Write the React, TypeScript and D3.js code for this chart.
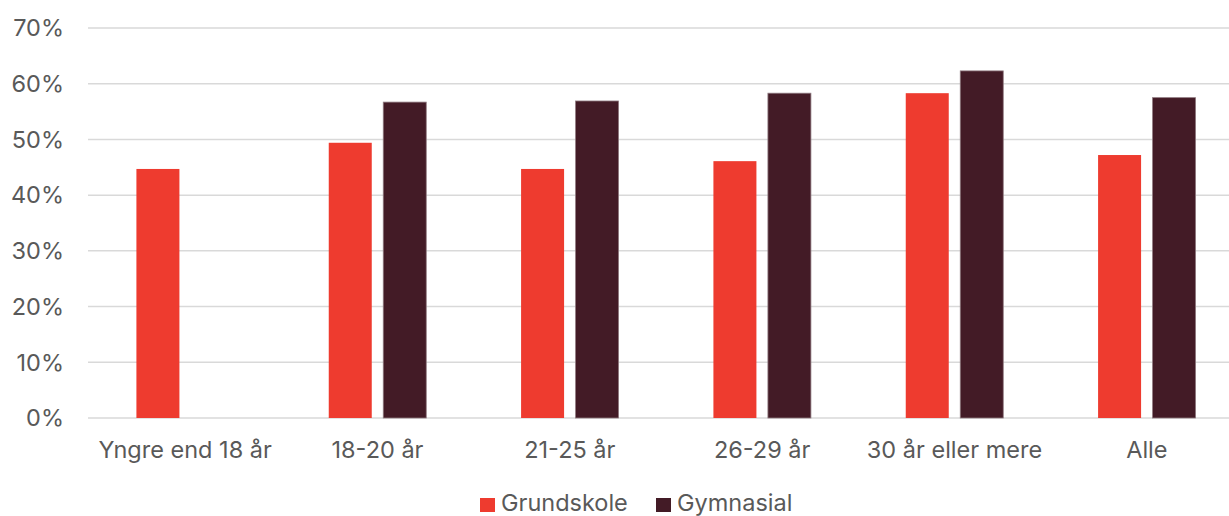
import React from "react";
import * as d3 from "d3";

const categories = ["Yngre end 18 år", "18-20 år", "21-25 år", "26-29 år", "30 år eller mere", "Alle"];
const seriesNames = ["Grundskole", "Gymnasial"];
const grundskole: (number | null)[] = [44.7, 49.4, 44.7, 46.1, 58.3, 47.2];
const gymnasial: (number | null)[] = [null, 56.7, 56.9, 58.3, 62.3, 57.5];
const yTicks = [0, 10, 20, 30, 40, 50, 60, 70];
const colors = ["#EE3B2F", "#431B26"];

const W = 1229;
const H = 516;
const FONT = "Inter, 'Liberation Sans', sans-serif";
const FS = 23.5;

export default function App() {
  const x0 = d3.scaleBand<string>().domain(categories).range([89, 1243]).paddingInner(0).paddingOuter(0);
  const x1 = d3.scaleBand<string>().domain(seriesNames).range([0, x0.bandwidth()]).paddingInner(0.211).paddingOuter(0.87);
  const y = d3.scaleLinear().domain([0, 70]).range([418, 28]);
  const series = [grundskole, gymnasial];

  return (
    <svg width={W} height={H} style={{ position: "absolute", left: 0, top: 0, background: "#fff" }}>
      {yTicks.map((t) => (
        <g key={t}>
          <line x1={88} x2={1229} y1={y(t)} y2={y(t)} stroke="#d9d9d9" strokeWidth={1.5} />
          <text x={64} y={y(t)} dy="0.35em" textAnchor="end" fontFamily={FONT} fontSize={FS} fill="#595959">
            {t}%
          </text>
        </g>
      ))}
      {categories.map((c, i) => (
        <g key={c} transform={`translate(${x0(c)},0)`}>
          {series.map((s, j) => {
            const v = s[i];
            if (v == null) return null;
            return (
              <rect
                key={j}
                x={x1(seriesNames[j])}
                y={y(v)}
                width={x1.bandwidth()}
                height={y(0) - y(v)}
                fill={colors[j]}
                stroke={j === 1 ? "#8f7a80" : "none"}
                strokeWidth={j === 1 ? 0.8 : 0}
              />
            );
          })}
          <text
            x={x0.bandwidth() / 2}
            y={450}
            dy="0.35em"
            textAnchor="middle"
            fontFamily={FONT}
            fontSize={FS}
            fill="#595959"
          >
            {c}
          </text>
        </g>
      ))}
      <g>
        <rect x={480} y={498} width={15} height={14} fill={colors[0]} />
        <text x={501} y={503} dy="0.35em" fontFamily={FONT} fontSize={FS} fill="#595959">
          {seriesNames[0]}
        </text>
        <rect x={656} y={498} width={15} height={14} fill={colors[1]} />
        <text x={677} y={503} dy="0.35em" fontFamily={FONT} fontSize={FS} fill="#595959">
          {seriesNames[1]}
        </text>
      </g>
    </svg>
  );
}
